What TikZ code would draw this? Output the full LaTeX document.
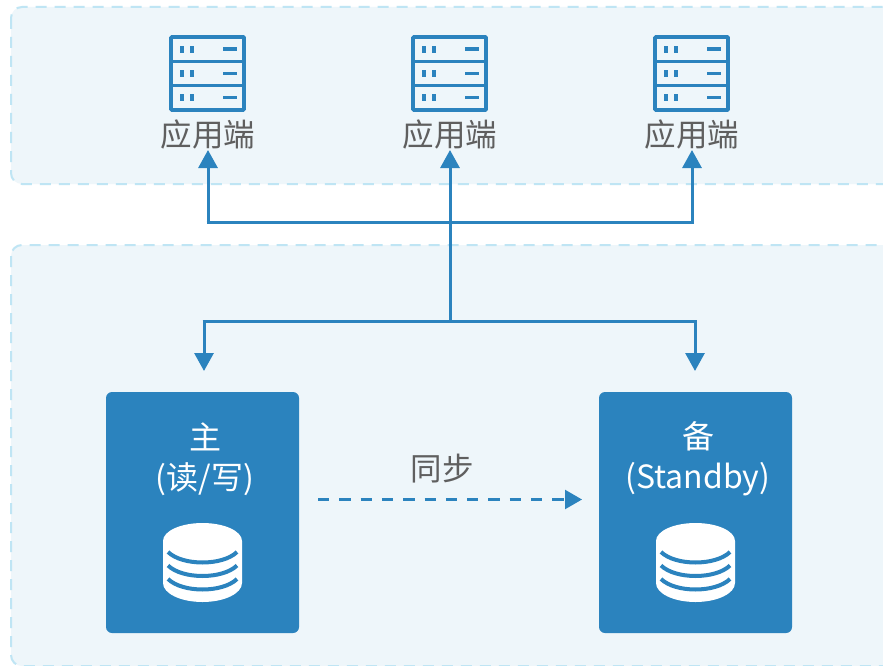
\documentclass[tikz,border=0pt]{standalone}
\usepackage{fontspec}
\setmainfont{Noto Sans CJK SC}
\usetikzlibrary{arrows.meta}
\definecolor{blu}{HTML}{2B83BE}
\definecolor{pan}{HTML}{EEF6FA}
\definecolor{dsh}{HTML}{BFE5F4}
\definecolor{txt}{HTML}{5F5F5F}
\tikzset{
 panel/.style={draw=dsh,fill=pan,line width=2pt,dash pattern=on 11pt off 8pt,rounded corners=11pt},
 dbbox/.style={fill=blu,draw=none,rounded corners=6pt,minimum width=193pt,minimum height=241pt,inner sep=0pt},
 lab/.style={text=txt,font=\fontsize{31.5}{36}\selectfont,inner sep=0pt},
 wlab/.style={text=white,font=\fontsize{32}{40}\selectfont,inner sep=0pt,align=center},
 conn/.style={draw=blu,line width=3pt},
 arr/.style={conn,-{Triangle[length=18pt,width=19pt]}},
 darr/.style={draw=blu,line width=2.4pt,dash pattern=on 11.3pt off 10pt,-{Triangle[length=17pt,width=19pt]}},
 frame/.style={draw=blu,line width=3.6pt,fill=none,rounded corners=0.8pt},
}
\newcommand{\srv}[2]{%
 \begin{scope}[shift={(#1,#2)}]
  \draw[frame] (0,0) rectangle (73,73);
  \draw[blu,line width=3.6pt] (0,24.5)--(73,24.5) (0,48.7)--(73,48.7);
  \foreach \ry in {12.3,36.5,60.5}{
   \fill[blu] (9,\ry-3.6) rectangle (13,\ry+3.6);
   \fill[blu] (19,\ry-3.6) rectangle (23,\ry+3.6);
   \fill[blu] (52,\ry-1.9) rectangle (66,\ry+1.9);
  }
 \end{scope}}
\newcommand{\cyl}[1]{%
 \begin{scope}[shift={(#1,0)}]
  \fill[white] (-39.5,541) arc[start angle=180,end angle=360,x radius=39.5,y radius=18]
     -- (39.5,583) arc[start angle=0,end angle=180,x radius=39.5,y radius=19] -- cycle;
  \foreach \e in {552,565.5,579}{
   \draw[blu,line width=4pt] (-34.5,\e) .. controls (-20,\e+14) and (20,\e+14) .. (34.5,\e);
  }
 \end{scope}}
\begin{document}
\begin{tikzpicture}[x=1pt,y=-1pt]
\useasboundingbox (0,0) rectangle (883,666);
\clip (0,0) rectangle (883,666);
\fill[white] (0,0) rectangle (883,666);
\draw[panel] (11,7) rectangle (900,184);
\draw[panel] (11,245) rectangle (900,666);
\srv{171}{37}\srv{413}{37}\srv{655}{37}
\node[lab] (a1) at (208,135) {应用端};
\node[lab] (a2) at (450,135) {应用端};
\node[lab] (a3) at (692,135) {应用端};
\coordinate (p1) at (208,150);
\coordinate (p2) at (450,150);
\coordinate (p3) at (692,150);
\coordinate (j1) at (208,222);
\coordinate (j2) at (450,222);
\coordinate (j3) at (692,222);
\coordinate (m) at (450,321);
\coordinate (l) at (204,321);
\coordinate (r) at (695,321);
\coordinate (lt) at (204,371);
\coordinate (rt) at (695,371);
\node[dbbox] (master) at (202.5,512.5) {};
\node[dbbox] (standby) at (695.5,512.5) {};
\draw[arr] (j1) -- (p1);
\draw[arr] (j3) -- (p3);
\draw[arr] (m) -- (p2);
\draw[conn] ([xshift=-1.5pt]j1) -- ([xshift=1.5pt]j3);
\draw[conn] ([xshift=-1.5pt]l) -- ([xshift=1.5pt]r);
\draw[arr] (l) -- (lt);
\draw[arr] (r) -- (rt);
\node[wlab] (mt) at (205,459) {主\\(读/写)};
\node[wlab] (st) at (698,459) {备\\(Standby)};
\cyl{202.5}\cyl{695.5}
\coordinate (ds) at (318,499.5);
\coordinate (de) at (582,499.5);
\draw[darr] (ds) -- (de);
\node[lab] (sync) at (442,469) {同步};
\end{tikzpicture}
\end{document}
